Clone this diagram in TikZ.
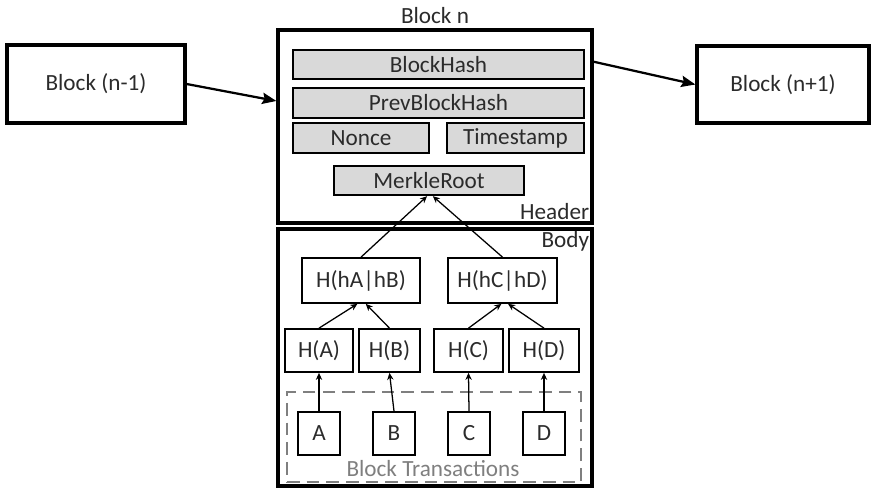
\documentclass[tikz,border=0pt]{standalone}
\usepackage{fontspec}
\setmainfont{Carlito}
\usetikzlibrary{positioning}
\usetikzlibrary{calc}
\usetikzlibrary{arrows.meta}
\definecolor{fieldgray}{HTML}{D9D9D9}
\definecolor{txtgray}{HTML}{2B2B2B}
\definecolor{dashgray}{HTML}{7F7F7F}

\begin{document}
\begin{tikzpicture}
        [
            x=0.025cm, y=-0.025cm,
            font=\fontsize{16.5}{19}\selectfont, text=txtgray,
            block/.style={rectangle, draw, line width=2.3pt, inner sep=0pt},
            field/.style={rectangle, draw, fill=fieldgray, line width=1.2pt, inner sep=0pt, minimum height=0.74cm},
            hashbox/.style={rectangle, draw, line width=1.2pt, inner sep=0pt},
            txbox/.style={rectangle, draw, line width=1.2pt, inner sep=0pt, minimum width=1.05cm, minimum height=1.075cm},
            link/.style={-{Stealth[length=5pt,width=4.5pt]}, line width=0.9pt},
            chain/.style={-{Stealth[length=10pt,width=8pt,inset=1.5pt]}, line width=1.6pt}
        ]
        \useasboundingbox (0,0) rectangle (871,489);
        %nodes
        \node[block, minimum width=4.45cm, minimum height=1.95cm] at (96,84)           (blk_prev)      {Block (n-1)};
        \node[block, minimum width=4.3cm, minimum height=1.925cm] at (783,84.5)        (blk_next)      {Block (n+1)};
        \node[block, minimum width=7.85cm, minimum height=4.825cm] at (435,126.5)      (header)        {};
        \node[block, minimum width=7.85cm, minimum height=6.425cm] at (435,357.5)      (body)          {};
        \node[above=0pt of header]                                                    (blk_n_label)   {Block n};
        \node[anchor=south east, inner sep=3pt] at (header.south east)                (header_label)  {Header};
        \node[anchor=north east, inner sep=3pt] at (body.north east)                  (body_label)    {Body};
        \node[field, minimum width=7.275cm] at (438.5,64.5)                           (blockhash)     {BlockHash};
        \node[field, minimum width=7.275cm] at (438.5,103)                            (prevhash)      {PrevBlockHash};
        \node[field, minimum width=3.4cm] at (361,138)                                (nonce)         {Nonce};
        \node[field, minimum width=3.425cm] at (515.5,138)                            (timestamp)     {Timestamp};
        \node[field, minimum width=4.75cm] at (429,180.5)                             (merkle)        {MerkleRoot};
        \node[hashbox, minimum width=2.95cm, minimum height=1.125cm] at (361,280.5)   (hab)           {H(hA|hB)};
        \node[hashbox, minimum width=2.725cm, minimum height=1.125cm] at (502.5,280.5) (hcd)          {H(hC|hD)};
        \node[hashbox, minimum width=1.7cm, minimum height=1.075cm] at (319,350.5)    (ha)            {H(A)};
        \node[hashbox, minimum width=1.525cm, minimum height=1.075cm] at (389.5,350.5) (hb)           {H(B)};
        \node[hashbox, minimum width=1.725cm, minimum height=1.075cm] at (468.5,350.5) (hc)           {H(C)};
        \node[hashbox, minimum width=1.75cm, minimum height=1.075cm] at (544,350.5)   (hd)            {H(D)};
        \node[rectangle, draw=dashgray, dash pattern=on 9pt off 5pt, line width=2pt,
              minimum width=7.35cm, minimum height=2.25cm] at (434,437)              (tx_area)       {};
        \node[text=dashgray] at (433,469)                                             (tx_label)      {Block Transactions};
        \node[txbox] at (319,433.5)                                                   (tx_a)          {A};
        \node[txbox] at (394,433.5)                                                   (tx_b)          {B};
        \node[txbox] at (469,433.5)                                                   (tx_c)          {C};
        \node[txbox] at (544,433.5)                                                   (tx_d)          {D};
        %arrows
        \draw[chain] (blk_prev.east) -- ($(header.north west)!0.37!(header.south west)$);
        \draw[chain] ($(header.north east)!0.17!(header.south east)$) -- (blk_next.west);
        \draw[link] (hab.north) -- ($(merkle.south west)!0.49!(merkle.south east)$);
        \draw[link] (hcd.north) -- ($(merkle.south west)!0.52!(merkle.south east)$);
        \draw[link] (ha.north) -- ($(hab.south west)!0.47!(hab.south east)$);
        \draw[link] (hb.north) -- ($(hab.south west)!0.54!(hab.south east)$);
        \draw[link] (hc.north) -- ($(hcd.south west)!0.49!(hcd.south east)$);
        \draw[link] (hd.north) -- ($(hcd.south west)!0.55!(hcd.south east)$);
        \draw[link] (tx_a.north) -- (ha.south);
        \draw[link] (tx_b.north) -- (hb.south);
        \draw[link] (tx_c.north) -- (hc.south);
        \draw[link] (tx_d.north) -- (hd.south);
    \end{tikzpicture}
\end{document}
